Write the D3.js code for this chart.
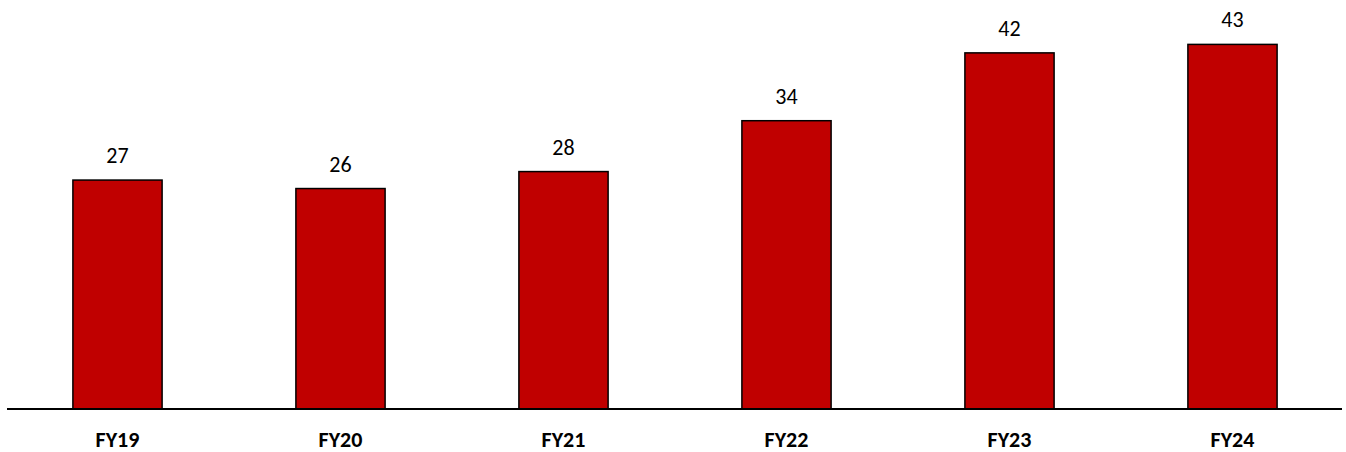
<!DOCTYPE html>
<html>
<head>
<meta charset="utf-8">
<script src="https://cdn.jsdelivr.net/npm/d3@7"></script>
<style>
  html, body { margin: 0; padding: 0; background: #fff; }
  svg { display: block; }
</style>
</head>
<body>
<svg id="chart" width="1346" height="452"></svg>
<script>
// Fiscal-year values
const categories = ["FY19", "FY20", "FY21", "FY22", "FY23", "FY24"];
const values = [27, 26, 28, 34, 42, 43];

const width = 1346, height = 452;
const baseline = 409;
const fontFamily = "Carlito, Calibri, 'Open Sans', 'Liberation Sans', sans-serif";

const svg = d3.select("#chart");

const x = d3.scaleBand()
  .domain(categories)
  .range([6, 1344])
  .paddingInner(0.6)
  .paddingOuter(0.3);

const y = d3.scaleLinear()
  .domain([0, 48])
  .range([baseline, 2]);

// Bars
svg.append("g")
  .selectAll("rect")
  .data(values)
  .join("rect")
  .attr("x", (d, i) => x(categories[i]))
  .attr("y", d => y(d))
  .attr("width", x.bandwidth())
  .attr("height", d => baseline - y(d))
  .attr("fill", "#c00000")
  .attr("stroke", "#000")
  .attr("stroke-width", 1.5);

// Value labels above bars
svg.append("g")
  .selectAll("text")
  .data(values)
  .join("text")
  .attr("x", (d, i) => x(categories[i]) + x.bandwidth() / 2)
  .attr("y", d => y(d) - 17)
  .attr("text-anchor", "middle")
  .attr("font-family", fontFamily)
  .attr("font-size", 22)
  .attr("fill", "#000")
  .text(d => d);

// Category axis
const axis = svg.append("g")
  .attr("transform", `translate(0,${baseline})`)
  .call(d3.axisBottom(x).tickSize(0).tickPadding(0));

axis.select(".domain").remove();
axis.append("line")
  .attr("x1", 7).attr("x2", 1342)
  .attr("y1", 0).attr("y2", 0)
  .attr("stroke", "#000")
  .attr("stroke-width", 2);

axis.selectAll(".tick text")
  .attr("dy", null)
  .attr("y", 38)
  .attr("font-family", fontFamily)
  .attr("font-size", 22)
  .attr("font-weight", "bold")
  .attr("fill", "#000");
</script>
</body>
</html>
